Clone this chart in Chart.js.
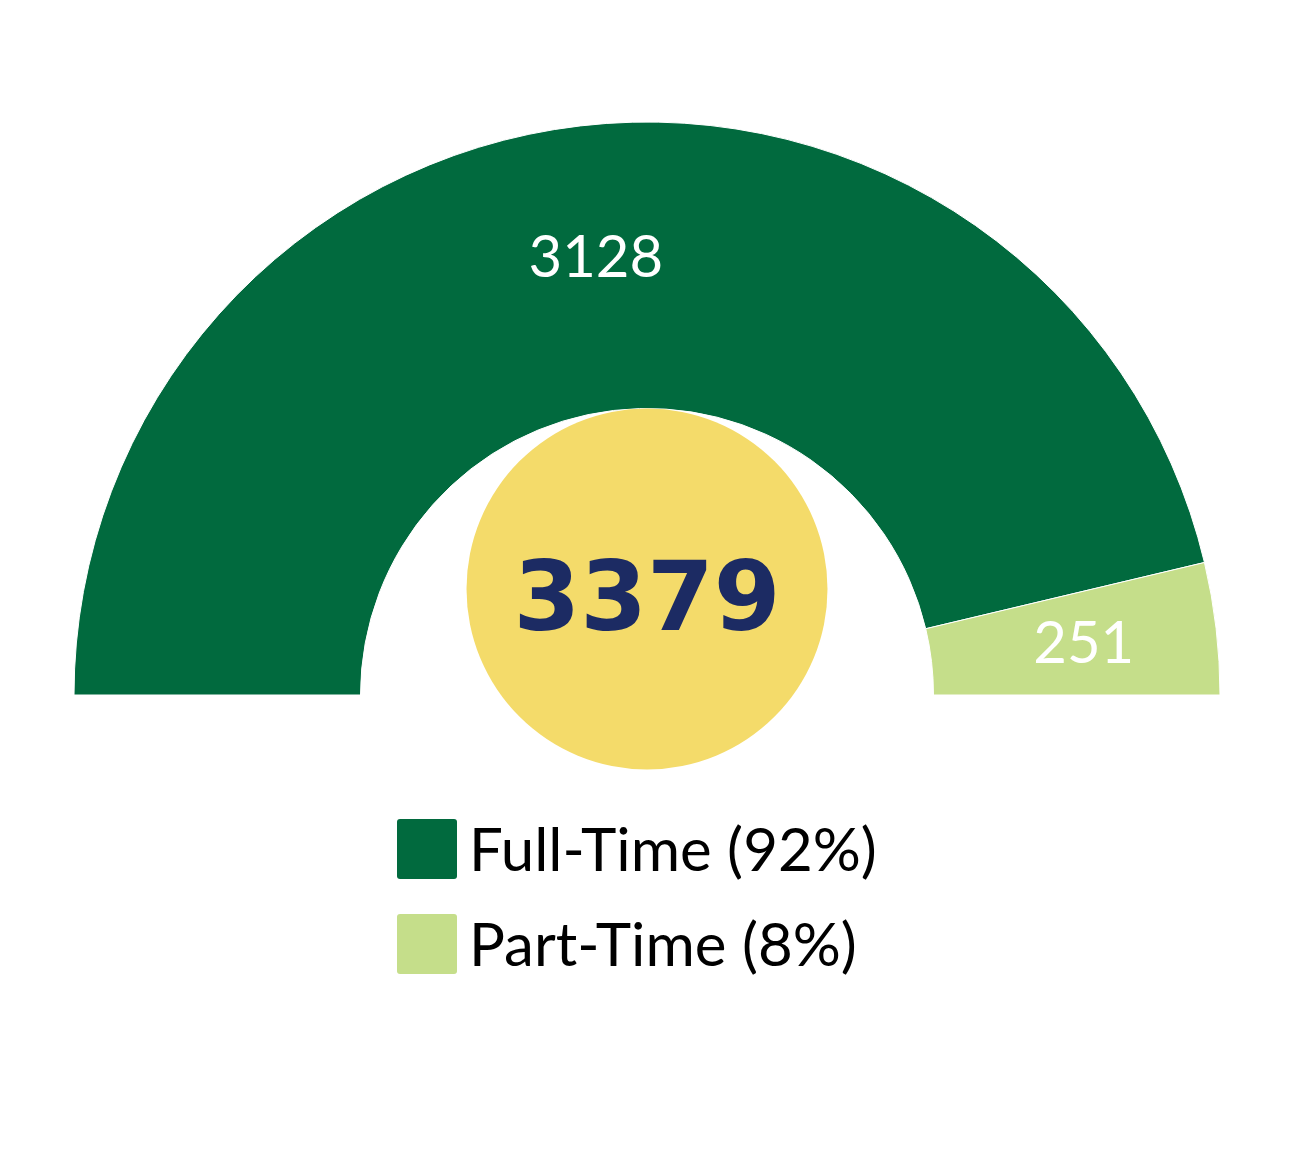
<!DOCTYPE html>
<html><head><meta charset="utf-8">
<script src="https://cdn.jsdelivr.net/npm/chart.js@4/dist/chart.umd.min.js"></script>
<style>html,body{margin:0;padding:0;background:#fff;}</style>
</head><body>
<canvas id="c" width="1310" height="1168"></canvas>
<script>
const categories = ['Full-Time', 'Part-Time'];
const values = [3128, 251];
const legendLabels = ['Full-Time (92%)', 'Part-Time (8%)'];
const colors = ['#016a3e', '#c5de8a'];
const centerColor = '#f4db6a';
const totalColor = '#1c2b63';

const overlay = {
  id: 'overlay',
  afterDatasetsDraw(chart) {
    const ctx = chart.ctx;
    const meta = chart.getDatasetMeta(0);
    const a0 = meta.data[0];
    const cx = a0.x, cy = a0.y, inner = a0.innerRadius;
    ctx.save();
    // value labels
    ctx.font = '58px Lato';
    ctx.fillStyle = '#ffffff';
    ctx.textAlign = 'center';
    ctx.textBaseline = 'middle';
    meta.data.forEach((arc, i) => {
      const mid = (arc.startAngle + arc.endAngle) / 2;
      const r = (arc.innerRadius + arc.outerRadius) / 2 + 10;
      ctx.fillText(String(values[i]), arc.x + r * Math.cos(mid), arc.y + r * Math.sin(mid));
    });
    // center circle
    const rr = inner * 0.63;
    const ccy = cy - inner + rr;
    ctx.beginPath();
    ctx.arc(cx, ccy, rr, 0, Math.PI * 2);
    ctx.fillStyle = centerColor;
    ctx.fill();
    const total = values.reduce((s, v) => s + v, 0);
    ctx.font = 'bold 96px "DejaVu Sans"';
    ctx.fillStyle = totalColor;
    ctx.textAlign = 'center';
    ctx.textBaseline = 'alphabetic';
    ctx.fillText(String(total), cx, ccy + rr * 0.228);
    // legend
    const lx = cx - 250;
    ctx.textAlign = 'left';
    ctx.font = '60px Lato';
    legendLabels.forEach((t, i) => {
      const top = cy + 124 + i * 95;
      ctx.fillStyle = colors[i];
      ctx.beginPath();
      ctx.roundRect(lx, top, 60, 60, 3);
      ctx.fill();
      ctx.fillStyle = '#000000';
      ctx.fillText(t, lx + 72, top + 52);
    });
    ctx.restore();
  }
};

new Chart(document.getElementById('c'), {
  type: 'doughnut',
  data: {
    labels: categories,
    datasets: [{
      data: values,
      backgroundColor: colors,
      borderColor: '#ffffff',
      borderWidth: 1,
      hoverOffset: 0
    }]
  },
  options: {
    responsive: false,
    animation: false,
    rotation: -90,
    circumference: 180,
    cutout: '50%',
    layout: { padding: { left: 73.5, right: 89.5, top: 118.5, bottom: 469.5 } },
    plugins: { legend: { display: false }, tooltip: { enabled: false } }
  },
  plugins: [overlay]
});
</script>
</body></html>
